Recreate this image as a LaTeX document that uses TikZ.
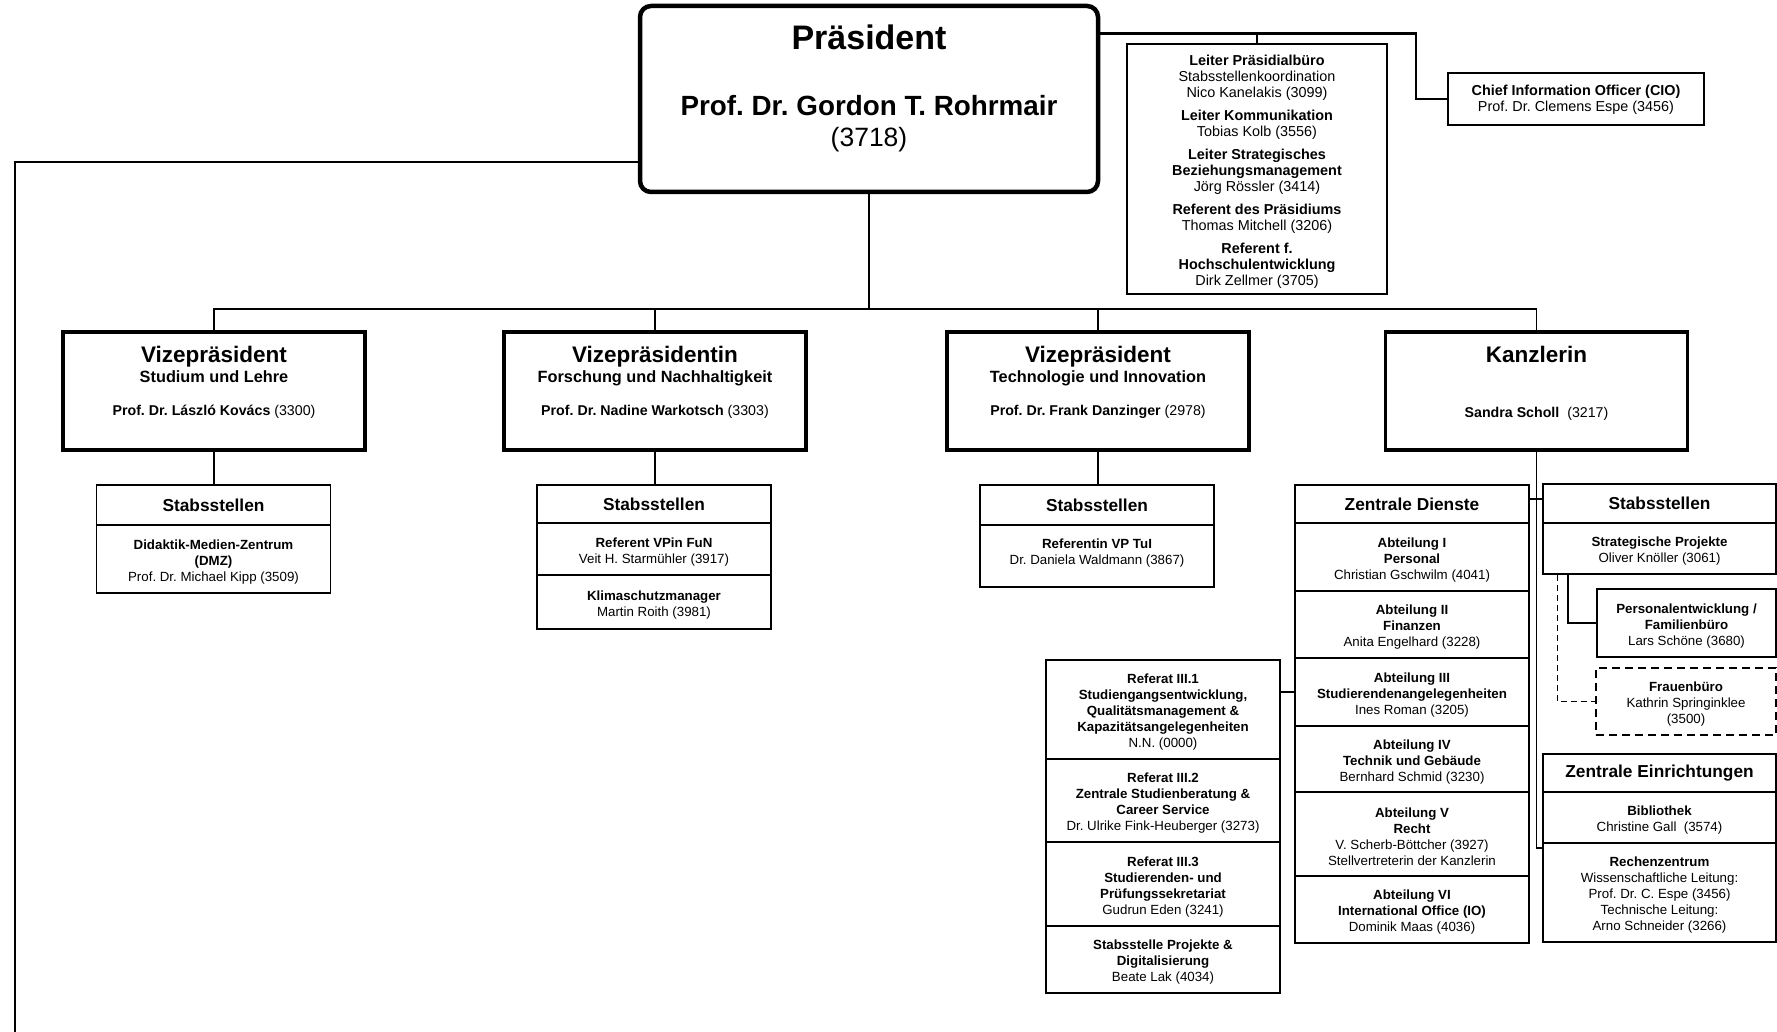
\documentclass[tikz,border=0pt]{standalone}
\usepackage{fontspec}
\setmainfont{Liberation Sans}
\frenchspacing
\newcommand\cst{\rule{0pt}{15.5pt}}
\newcommand\lst{\rule{0pt}{16.5pt}}
\begin{document}
\begin{tikzpicture}[x=1pt,y=-1pt,
  every node/.style={inner sep=0pt},
  lbl/.style={anchor=base},
  presbox/.style={draw, line width=4.5pt, rounded corners=11pt, minimum width=458pt, minimum height=186pt},
  vpbox/.style={draw, line width=3.8pt, minimum width=302pt, minimum height=118pt},
  vptitle/.style={font=\bfseries\fontsize{22.5}{26}\selectfont},
  vpsub/.style={font=\bfseries\fontsize{16.3}{19}\selectfont},
  vpname/.style={font=\fontsize{14.2}{17}\selectfont},
  hdr/.style={draw, line width=1.7pt, minimum width=234pt, minimum height=39pt, font=\bfseries\fontsize{17.3}{20}\selectfont},
  cell/.style={draw, line width=1.7pt, minimum width=234pt, align=center, font=\fontsize{13.3}{16}\selectfont},
  topbox/.style={draw, line width=2.5pt, align=center, font=\fontsize{14.4}{16}\selectfont},
  thin/.style={line width=1.3pt},
  mid/.style={line width=1.8pt},
  heavy/.style={line width=2.5pt},
]
\useasboundingbox (0,0) rectangle (1777,1032);

% President
\node[presbox] (pres) at (869,99) {};
\node[lbl, font=\bfseries\fontsize{34}{40}\selectfont] (prest) at (869,50) {Präsident};
\node[lbl, font=\bfseries\fontsize{27.8}{32}\selectfont] (presn) at (869,116) {Prof. Dr. Gordon T. Rohrmair};
\node[lbl, font=\fontsize{26.5}{32}\selectfont] (presp) at (869,147) {(3718)};

% Staff of the president
\node[topbox, minimum width=260pt, minimum height=250pt] (leiter) at (1257,169) {%
\lst\textbf{Leiter Präsidialbüro}\\Stabsstellenkoordination\\Nico Kanelakis (3099)\\[7pt]
\textbf{Leiter Kommunikation}\\Tobias Kolb (3556)\\[7pt]
\textbf{Leiter Strategisches}\\\textbf{Beziehungsmanagement}\\Jörg Rössler (3414)\\[7pt]
\textbf{Referent des Präsidiums}\\Thomas Mitchell (3206)\\[7pt]
\textbf{Referent f.}\\\textbf{Hochschulentwicklung}\\Dirk Zellmer (3705)};
\node[topbox, minimum width=256pt, minimum height=52pt] (cio) at (1576,99) {%
\rule{0pt}{12.5pt}\textbf{Chief Information Officer (CIO)}\\Prof. Dr. Clemens Espe (3456)};

\draw[heavy] ([yshift=-30pt]pres.north east) -| ([xshift=-31pt]cio.west) -- (cio.west);
\draw[heavy] (leiter.north) -- ++(0,-8);
\coordinate (leftend) at (15,1032);
\draw[mid] ([yshift=-63pt]pres.west) -| (leftend);

% Vice presidents
\node[vpbox] (vp1) at (214,391) {};
\node[vpbox] (vp2) at (655,391) {};
\node[vpbox] (vp3) at (1098,391) {};
\node[vpbox] (vp4) at (1536.5,391) {};

\node[lbl, vptitle] (vp1t) at (214,362) {Vizepräsident};
\node[lbl, vpsub] (vp1s) at (214,382) {Studium und Lehre};
\node[lbl, vpname] (vp1n) at (214,415) {{\bfseries Prof. Dr. László Kovács} (3300)};
\node[lbl, vptitle] (vp2t) at (655,362) {Vizepräsidentin};
\node[lbl, vpsub] (vp2s) at (655,382) {Forschung und Nachhaltigkeit};
\node[lbl, vpname] (vp2n) at (655,415) {{\bfseries Prof. Dr. Nadine Warkotsch} (3303)};
\node[lbl, vptitle] (vp3t) at (1098,362) {Vizepräsident};
\node[lbl, vpsub] (vp3s) at (1098,382) {Technologie und Innovation};
\node[lbl, vpname] (vp3n) at (1098,415) {{\bfseries Prof. Dr. Frank Danzinger} (2978)};
\node[lbl, vptitle] (vp4t) at (1536.5,362) {Kanzlerin};
\node[lbl, vpname] (vp4n) at (1536.5,417) {{\bfseries Sandra Scholl}\ \ (3217)};

\coordinate (busc) at (869,309);
\draw[thin] (pres.south) -- (busc);
\draw[thin] (vp1.north) |- (busc) -| (vp4.north);
\draw[thin] (vp2.north) -- (vp2.north |- busc);
\draw[thin] (vp3.north) -- (vp3.north |- busc);

% Stabsstellen VP1
\node[hdr, minimum height=40pt] (s1h) at (213.5,505) {Stabsstellen};
\node[cell, minimum height=68pt] (s1a) at (213.5,559) {\cst\textbf{Didaktik-Medien-Zentrum}\\\textbf{(DMZ)}\\Prof. Dr. Michael Kipp (3509)};
\draw[thin] (vp1.south) -- (vp1.south |- s1h.north);

% Stabsstellen VP2
\node[hdr, minimum height=38pt] (s2h) at (654,504) {Stabsstellen};
\node[cell, minimum height=52pt] (s2a) at (654,549) {\cst\textbf{Referent VPin FuN}\\Veit H. Starmühler (3917)};
\node[cell, minimum height=54pt] (s2b) at (654,602) {\cst\textbf{Klimaschutzmanager}\\Martin Roith (3981)};
\draw[thin] (vp2.south) -- (vp2.south |- s2h.north);

% Stabsstellen VP3
\node[hdr, minimum height=40pt] (s3h) at (1097,505) {Stabsstellen};
\node[cell, minimum height=62pt] (s3a) at (1097,556) {\textbf{Referentin VP TuI}\\Dr. Daniela Waldmann (3867)\rule[-8pt]{0pt}{1pt}};
\draw[thin] (vp3.south) -- (vp3.south |- s3h.north);

% Zentrale Dienste
\node[hdr, minimum height=38pt] (zdh) at (1412,504) {Zentrale Dienste};
\node[cell, minimum height=68pt] (zd1) at (1412,557) {\cst\textbf{Abteilung I}\\\textbf{Personal}\\Christian Gschwilm (4041)};
\node[cell, minimum height=67pt] (zd2) at (1412,624.5) {\cst\textbf{Abteilung II}\\\textbf{Finanzen}\\Anita Engelhard (3228)};
\node[cell, minimum height=68pt] (zd3) at (1412,692) {\cst\textbf{Abteilung III}\\\textbf{Studierendenangelegenheiten}\\Ines Roman (3205)};
\node[cell, minimum height=66pt] (zd4) at (1412,759) {\cst\textbf{Abteilung IV}\\\textbf{Technik und Gebäude}\\Bernhard Schmid (3230)};
\node[cell, minimum height=84pt] (zd5) at (1412,834) {\cst\textbf{Abteilung V}\\\textbf{Recht}\\V. Scherb-Böttcher (3927)\\Stellvertreterin der Kanzlerin};
\node[cell, minimum height=67pt] (zd6) at (1412,909.5) {\cst\textbf{Abteilung VI}\\\textbf{International Office (IO)}\\Dominik Maas (4036)};

% Referate
\node[cell, minimum height=99pt] (r1) at (1163,709.5) {\cst\textbf{Referat III.1}\\\textbf{Studiengangsentwicklung,}\\\textbf{Qualitätsmanagement \&}\\\textbf{Kapazitätsangelegenheiten}\\N.N. (0000)};
\node[cell, minimum height=83pt] (r2) at (1163,800.5) {\cst\textbf{Referat III.2}\\\textbf{Zentrale Studienberatung \&}\\\textbf{Career Service}\\Dr. Ulrike Fink-Heuberger (3273)};
\node[cell, minimum height=84pt] (r3) at (1163,884) {\cst\textbf{Referat III.3}\\\textbf{Studierenden- und}\\\textbf{Prüfungssekretariat}\\Gudrun Eden (3241)};
\node[cell, minimum height=67pt] (r4) at (1163,959.5) {\cst\textbf{Stabsstelle Projekte \&}\\\textbf{Digitalisierung}\\Beate Lak (4034)};
\draw[heavy] (r1.east |- zd3.west) -- (zd3.west);

% Stabsstellen Kanzlerin
\node[hdr, minimum width=233pt, minimum height=39pt] (ksh) at (1659.5,503.5) {Stabsstellen};
\node[cell, minimum width=233pt, minimum height=51pt] (kse) at (1659.5,548.5) {\cst\textbf{Strategische Projekte}\\Oliver Knöller (3061)};
\node[cell, minimum width=179pt, minimum height=68pt] (pe) at (1686.5,623) {\cst\textbf{Personalentwicklung /}\\\textbf{Familienbüro}\\Lars Schöne (3680)};
\node[cell, minimum width=180pt, minimum height=67pt, dash pattern=on 8pt off 5pt, line width=2.3pt] (fb) at (1686,701.5) {\cst\textbf{Frauenbüro}\\Kathrin Springinklee\\(3500)};

% Zentrale Einrichtungen
\node[hdr, minimum width=233pt, minimum height=38pt] (zeh) at (1659.5,773) {Zentrale Einrichtungen};
\node[cell, minimum width=233pt, minimum height=51pt] (zeb) at (1659.5,817.5) {\cst\textbf{Bibliothek}\\Christine Gall\ \ (3574)};
\node[cell, minimum width=233pt, minimum height=99pt] (zer) at (1659.5,892.5) {\cst\textbf{Rechenzentrum}\\Wissenschaftliche Leitung:\\Prof. Dr. C. Espe (3456)\\Technische Leitung:\\Arno Schneider (3266)};

% Kanzlerin connectors
\coordinate (zeend) at (1543,848);
\draw[mid] (vp4.south) |- (zeend);
\draw[mid] ([yshift=5pt]zdh.east) -- ([yshift=5pt]zdh.east -| ksh.west);
\draw[mid] ([xshift=26pt]kse.south west) |- (pe.west);
\draw[thin, dash pattern=on 6pt off 4pt] ([xshift=15pt]kse.south west) |- (fb.west);
\end{tikzpicture}
\end{document}
